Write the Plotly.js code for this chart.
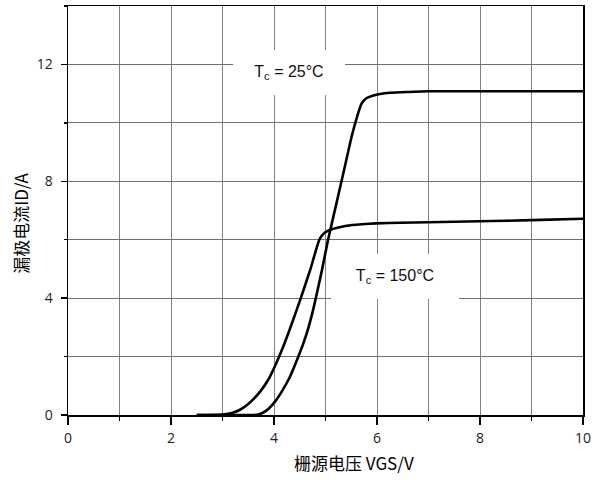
<!DOCTYPE html>
<html>
<head>
<meta charset="utf-8">
<script src="https://cdn.plot.ly/plotly-3.0.1.min.js"></script>
<style>html,body{margin:0;padding:0;background:#fff;}#chart{width:600px;height:480px;}</style>
</head>
<body>
<div id="chart"></div>
<script>
// Tc = 150°C curve (VGS in V, ID in A)
var vgs150 = [2.5, 3.0, 3.2, 3.34, 3.5, 3.62, 3.73, 3.88, 4.02, 4.17, 4.31, 4.50, 4.70, 4.88, 4.96, 5.09, 5.25, 5.41, 5.7, 5.99, 6.45, 7.0, 8.0, 9.0, 10.0];
var id150  = [0, 0.02, 0.08, 0.18, 0.38, 0.58, 0.8, 1.18, 1.68, 2.3, 2.95, 3.9, 4.95, 6.0, 6.2, 6.34, 6.42, 6.48, 6.53, 6.56, 6.58, 6.6, 6.63, 6.67, 6.72];
// Tc = 25°C curve
var vgs25 = [2.5, 3.5, 3.7, 3.85, 4.02, 4.15, 4.31, 4.45, 4.57, 4.67, 4.76, 4.93, 5.05, 5.2, 5.35, 5.51, 5.62, 5.70, 5.80, 5.93, 6.25, 6.45, 7.0, 8.0, 9.0, 10.0];
var id25  = [0, 0, 0.02, 0.15, 0.46, 0.8, 1.31, 1.9, 2.45, 3.0, 3.6, 4.95, 6.0, 7.15, 8.3, 9.55, 10.25, 10.66, 10.85, 10.94, 11.03, 11.05, 11.08, 11.08, 11.08, 11.08];
// axis tick labels
var xTicks = [0, 2, 4, 6, 8, 10];
var yTicks = [0, 4, 8, 12];
var labels = ['T<sub>c</sub> = 25°C', 'T<sub>c</sub> = 150°C'];
var xTitle = '栅源电压 VGS/V';
var yTitle = '漏极电流ID/A';

var lineStyle = {color: '#000', width: 2.6, shape: 'spline', smoothing: 0.5};
var traces = [
  {x: vgs25, y: id25, mode: 'lines', line: lineStyle, hoverinfo: 'skip', showlegend: false},
  {x: vgs150, y: id150, mode: 'lines', line: lineStyle, hoverinfo: 'skip', showlegend: false}
];

var tickFont = {family: '"Open Sans", "Liberation Sans", sans-serif', size: 14, color: '#222'};
var cjkFont = {family: '"Noto Sans CJK SC", "Noto Sans", sans-serif', size: 17, color: '#000'};
var labelFont = {family: '"Liberation Sans", Arial, sans-serif', size: 16, color: '#111'};

var layout = {
  width: 600, height: 480,
  margin: {l: 68, r: 17, t: 6, b: 65, pad: 0},
  paper_bgcolor: '#fff', plot_bgcolor: '#fff',
  xaxis: {
    range: [0, 10], tickvals: xTicks, ticktext: xTicks.map(String),
    showgrid: true, gridcolor: '#7f7f7f', gridwidth: 1,
    ticks: 'outside', ticklen: 8, tickcolor: '#000', tickwidth: 1.5,
    minor: {dtick: 1, tick0: 0, showgrid: true, gridcolor: '#7f7f7f', gridwidth: 1, ticks: 'outside', ticklen: 4, tickcolor: '#000', tickwidth: 1.5},
    showline: true, linecolor: '#000', linewidth: 1.5, mirror: true,
    zeroline: false, tickfont: tickFont, ticklabelstandoff: 2, fixedrange: true
  },
  yaxis: {
    range: [0, 14], tickvals: yTicks, ticktext: yTicks.map(String),
    showgrid: true, gridcolor: '#6f6f6f', gridwidth: 1,
    ticks: 'outside', ticklen: 6, tickcolor: '#000', tickwidth: 1.5,
    minor: {dtick: 2, tick0: 0, showgrid: true, gridcolor: '#6f6f6f', gridwidth: 1, ticks: 'outside', ticklen: 3, tickcolor: '#000', tickwidth: 1.5},
    showline: true, linecolor: '#000', linewidth: 1.5, mirror: true,
    zeroline: false, tickfont: tickFont, ticklabelstandoff: 5, fixedrange: true
  },
  annotations: [
    {x: 4.29, y: 11.74, xref: 'x', yref: 'y', text: labels[0], showarrow: false,
     bgcolor: '#fff', width: 112, height: 45, borderpad: 0, borderwidth: 0, font: labelFont},
    {x: 6.35, y: 4.75, xref: 'x', yref: 'y', text: labels[1], showarrow: false,
     bgcolor: '#fff', width: 128, height: 45, borderpad: 0, borderwidth: 0, font: labelFont},
    {x: 0.555, y: -0.117, xref: 'paper', yref: 'paper', text: xTitle, showarrow: false,
     xanchor: 'center', yanchor: 'middle', font: cjkFont},
    {x: -0.093, y: 0.468, xref: 'paper', yref: 'paper', text: yTitle, showarrow: false,
     textangle: -90, xanchor: 'center', yanchor: 'middle', font: cjkFont}
  ]
};

Plotly.newPlot('chart', traces, layout, {displayModeBar: false, staticPlot: true});
</script>
</body>
</html>
